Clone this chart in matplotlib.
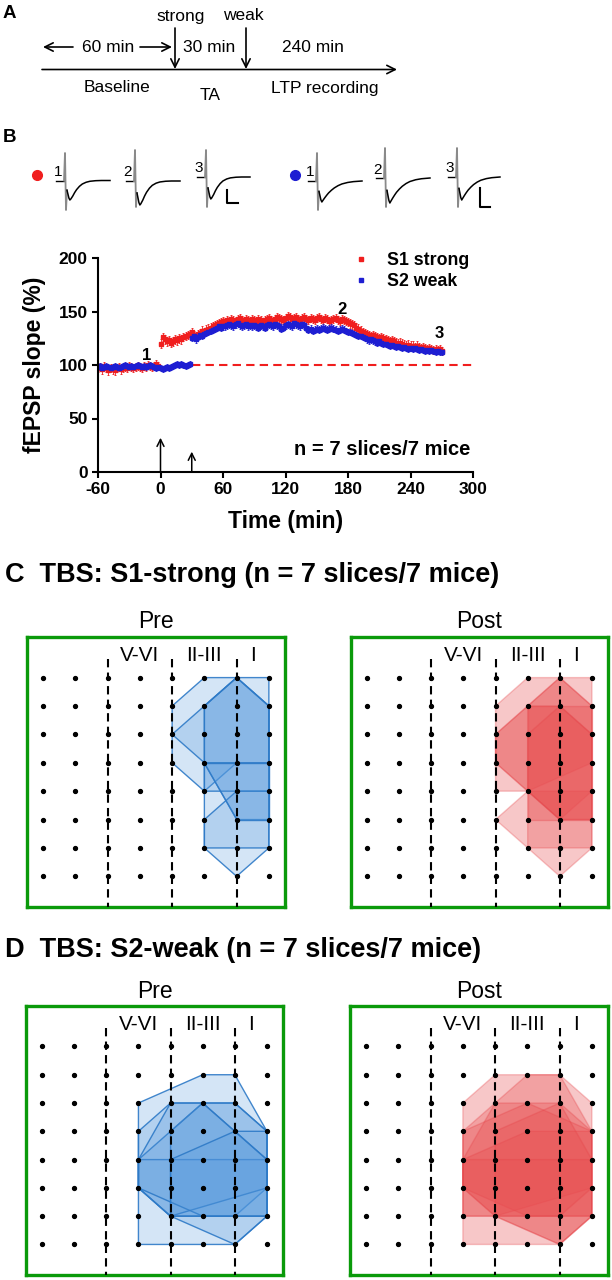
import numpy as np
import matplotlib
matplotlib.use("Agg")
import matplotlib.pyplot as plt
from matplotlib.patches import Polygon
from matplotlib.lines import Line2D

plt.rcParams['font.family'] = ['Liberation Sans', 'DejaVu Sans']
plt.rcParams['axes.unicode_minus'] = False

W, H = 612, 1280

# ---- panel A: protocol ----
stim_names = ['strong', 'weak']
phase_minutes = ['60 min', '30 min', '240 min']
phase_names = ['Baseline', 'TA', 'LTP recording']

# ---- panel B: time course (every 2 min) ----
time_min = np.arange(-60, 272, 2)
red_pct = [
    97, 98, 96, 99, 97, 95, 97, 96, 95, 97, 98, 96, 97, 98, 97,
    99, 98, 97, 98, 99, 98, 97, 99, 98, 100, 99, 98, 99, 101, 99,
    120, 126, 124, 122, 123, 121, 122, 124, 123, 125, 124, 126, 127, 128, 129, 131,
    128, 127, 129, 130, 132, 131, 133, 134, 135, 136, 137, 138, 139, 140, 141,
    140, 142, 141, 143, 142, 141, 143, 144, 142, 141, 143, 142, 141, 143, 142,
    141, 143, 142, 140, 142, 143, 144, 142, 141, 143, 145, 144, 143, 142, 144,
    146, 145, 143, 144, 145, 143, 142, 144, 145, 143, 142, 144, 143, 142, 144,
    145, 143, 142, 144, 143, 141, 142, 143, 144, 142, 141, 143, 142, 141, 140,
    139, 138, 137, 135, 134, 132, 131, 130, 129, 128, 127, 128, 127, 126, 125,
    126, 125, 124, 123, 122, 123, 122, 121, 120, 121, 120, 119, 118, 119, 118,
    118, 117, 118, 117, 116, 117, 116, 115, 116, 115, 114, 115, 114, 115, 113,
]
blue_pct = [
    98, 99, 97, 98, 99, 98, 97, 98, 99, 98, 97, 98, 99, 100, 99,
    98, 99, 98, 99, 100, 99, 98, 99, 98, 99, 100, 99, 98, 97, 98,
    97, 96, 97, 98, 97, 98, 99, 100, 101, 100, 101, 100, 99, 100, 101,
    125, 127, 124, 126, 128, 127, 129, 130, 131, 132, 133, 134, 135, 136, 135, 136,
    136, 137, 138, 137, 136, 138, 139, 137, 136, 137, 138, 136, 137, 136, 137,
    136, 135, 137, 136, 135, 137, 138, 137, 136, 138, 137, 136, 134, 135, 137,
    138, 137, 136, 139, 138, 137, 136, 138, 137, 135, 133, 134, 132, 133, 134,
    133, 134, 135, 134, 133, 134, 135, 134, 133, 132, 133, 134, 133, 132, 131,
    131, 130, 129, 128, 127, 127, 126, 125, 124, 123, 124, 123, 122, 121, 122,
    121, 120, 120, 119, 118, 119, 118, 117, 118, 117, 116, 117, 116, 115, 116,
    115, 116, 115, 114, 115, 114, 113, 114, 113, 114, 113, 112, 113, 112, 112,
]
red_sem = 4.0
blue_sem = 3.0
stim_times = [0, 30]
trace_marks = {'1': (-13, 109), '2': (174, 152), '3': (268, 129)}

# ---- example traces (normalised decay after the artifact) ----
shape_t = [0, 2, 3, 4, 6, 8, 10, 13, 16, 20, 24, 30, 36, 45]
red_shape = [0.5, 0.9, 1.0, 0.95, 0.8, 0.62, 0.47, 0.3, 0.18, 0.09, 0.04, 0.01, 0, 0]
blue_shape = [0.5, 0.9, 1.0, 0.93, 0.8, 0.68, 0.57, 0.44, 0.33, 0.22, 0.14, 0.07, 0.03, 0]
red_depth = [19.5, 24, 22]
blue_depth = [21, 25, 23]

# ---- panels C/D: responsive-electrode outlines, (column, row) on 8x8 grid ----
c_pre = [
    [(5, 2), (6, 1), (8, 1), (8, 4), (7, 4), (6, 5), (5, 4)],
    [(5, 3), (6, 2), (7, 1), (8, 2), (8, 4), (6, 4)],
    [(6, 2), (7, 1), (8, 2), (8, 6), (7, 6), (6, 4)],
    [(6, 4), (8, 4), (8, 7), (7, 8), (6, 7)],
    [(6, 6), (7, 5), (8, 5), (8, 7), (6, 7)],
    [(6, 2), (7, 1), (8, 2), (8, 5), (6, 5)],
    [(6, 4), (8, 4), (8, 6), (7, 6)],
]
c_post = [
    [(5, 2), (6, 1), (8, 1), (8, 4), (6, 5), (5, 5)],
    [(5, 3), (6, 2), (7, 1), (8, 2), (8, 5), (7, 6), (5, 4)],
    [(6, 2), (7, 1), (8, 2), (8, 7), (6, 7)],
    [(5, 6), (6, 5), (8, 5), (8, 7), (7, 8), (6, 7)],
    [(6, 2), (8, 2), (8, 6), (6, 6)],
    [(5, 3), (6, 2), (7, 2), (8, 3), (8, 6), (7, 6), (5, 4)],
    [(6, 3), (7, 2), (8, 3), (8, 6), (7, 6), (6, 5)],
]
d_pre = [
    [(4, 3), (6, 2), (7, 2), (8, 4), (8, 7), (7, 8), (4, 8)],
    [(4, 4), (5, 3), (7, 3), (8, 4), (8, 6), (7, 7), (5, 7), (4, 6)],
    [(4, 5), (5, 4), (6, 3), (7, 3), (8, 4), (8, 7), (5, 7), (4, 6)],
    [(4, 5), (8, 5), (8, 7), (7, 8), (5, 7), (4, 6)],
    [(5, 4), (6, 3), (7, 4), (8, 4), (8, 6), (5, 7)],
    [(4, 5), (5, 3), (6, 3), (8, 5), (8, 7), (6, 7), (4, 6)],
    [(5, 5), (7, 4), (8, 5), (8, 7), (5, 7)],
]
d_post = [
    [(4, 3), (5, 2), (7, 2), (8, 3), (8, 7), (7, 8), (4, 8)],
    [(4, 4), (5, 3), (6, 2), (7, 2), (8, 4), (8, 7), (4, 7)],
    [(4, 5), (5, 3), (7, 3), (8, 4), (8, 7), (7, 8), (5, 7), (4, 6)],
    [(4, 4), (6, 3), (8, 4), (8, 6), (5, 7), (4, 6)],
    [(4, 5), (6, 4), (8, 4), (8, 7), (6, 7), (4, 6)],
    [(5, 4), (7, 3), (8, 5), (8, 7), (7, 8), (5, 7)],
    [(4, 5), (8, 5), (8, 6), (7, 7), (4, 7)],
]
layers = ['V-VI', 'II-III', 'I']
layer_cols = [4, 6, 7.5]
border_cols = [3, 5, 7]

RED = '#f01e1e'
BLUE = '#1e1ed2'

fig = plt.figure(figsize=(W / 100, H / 100), dpi=100)


def px_axes(x0, y0, x1, y1):
    return fig.add_axes([x0 / W, 1 - y1 / H, (x1 - x0) / W, (y1 - y0) / H])


def arrow(ax, start, end, lw=1.2, hl=0.6, hw=0.3):
    ax.annotate('', xy=end, xytext=start,
                arrowprops=dict(arrowstyle=f'->,head_length={hl},head_width={hw}',
                                lw=lw, color='black', shrinkA=0, shrinkB=0))


# ================= A =================
fig.text(3 / W, 1 - 14 / H, 'A', fontsize=13.5, fontweight='bold', va='center')
ax = px_axes(0, 0, W, 110)
ax.set_xlim(0, W)
ax.set_ylim(110, 0)
ax.axis('off')
arrow(ax, (42, 69.5), (397, 69.5))
for x, tx, name in zip([175, 246], [181, 243], stim_names):
    arrow(ax, (x, 28), (x, 69))
    ax.text(tx, 16, name, ha='center', va='center', fontsize=12.5)
arrow(ax, (73, 47), (43, 47))
arrow(ax, (140, 47), (172, 47))
for x, lab in zip([108, 209, 313], phase_minutes):
    ax.text(x, 47, lab, ha='center', va='center', fontsize=12.5)
for x, y, lab in zip([117, 210, 325], [88, 95, 88], phase_names):
    ax.text(x, y, lab, ha='center', va='center', fontsize=12.5)

# ================= B traces =================
fig.text(3 / W, 1 - 138 / H, 'B', fontsize=13.5, fontweight='bold', va='center')
ax = px_axes(0, 110, W, 250)
ax.set_xlim(0, W)
ax.set_ylim(250, 110)
ax.axis('off')
ax.plot([37], [175], 'o', color=RED, ms=7)
ax.plot([295], [175], 'o', color=BLUE, ms=7)
traces = [
    (65, 180.5, 153, 210, red_depth[0], 110, red_shape),
    (135, 181, 150, 207, red_depth[1], 180, red_shape),
    (206, 177, 150, 207, red_depth[2], 250, red_shape),
    (317, 181, 153, 210, blue_depth[0], 362, blue_shape),
    (385, 178, 148, 207, blue_depth[1], 430, blue_shape),
    (457, 177, 148, 207, blue_depth[2], 500, blue_shape),
]
for i, (ax0, base, top, bot, depth, end, shape) in enumerate(traces):
    ax.plot([ax0 - 9, ax0 - 1], [base, base], color='black', lw=1.0)
    ax.plot([ax0 - 1, ax0, ax0 + 1, ax0 + 2], [base, top, bot, base + 0.5 * depth],
            color='#8a8a8a', lw=1.3)
    xs = [ax0 + 2 + t * (end - ax0 - 2) / 45 for t in shape_t]
    ys = [base + depth * v for v in shape]
    ax.plot(xs, ys, color='black', lw=1.1)
    ax.text(ax0 - 7, base - 8.5, str(i % 3 + 1), ha='center', va='center', fontsize=11)
ax.plot([227, 227, 238], [190, 203, 203], color='black', lw=1.5)
ax.plot([480, 480, 490], [188, 207, 207], color='black', lw=1.5)

# ================= B time course =================
ax = px_axes(98, 258, 473, 472)
ax.errorbar(time_min, red_pct, yerr=red_sem, fmt='s', ms=2.2, color=RED,
            elinewidth=0.6, capsize=0.8, capthick=0.6)
ax.errorbar(time_min, blue_pct, yerr=blue_sem, fmt='s', ms=2.2, color=BLUE,
            elinewidth=0.6, capsize=0.8, capthick=0.6)
ax.plot([30, 300], [100, 100], '--', color=RED, lw=1.5, dashes=(4, 2.5))
for t, top in zip(stim_times, [32, 19]):
    ax.annotate('', xy=(t, top), xytext=(t, 0),
                arrowprops=dict(arrowstyle='->,head_length=0.5,head_width=0.25',
                                lw=1.1, color='black', shrinkA=0, shrinkB=0))
for lab, (t, v) in trace_marks.items():
    ax.text(t, v, lab, ha='center', va='center', fontsize=12, fontweight='bold')
ax.text(297, 21, 'n = 7 slices/7 mice', ha='right', va='center',
        fontsize=14.5, fontweight='bold')
ax.set_xlim(-60, 300)
ax.set_ylim(0, 200)
ax.set_xticks(range(-60, 301, 60))
ax.set_yticks(range(0, 201, 50))
for s in ['top', 'right']:
    ax.spines[s].set_visible(False)
for s in ['left', 'bottom']:
    ax.spines[s].set_linewidth(1.5)
ax.tick_params(width=1.5, length=4, labelsize=12.5)
for lab in ax.get_xticklabels() + ax.get_yticklabels():
    lab.set_fontweight('bold')
ax.set_xlabel('Time (min)', fontsize=16.5, fontweight='bold', labelpad=9)
ax.set_ylabel('fEPSP slope (%)', fontsize=16.5, fontweight='bold', labelpad=9)
handles = [Line2D([], [], ls='none', marker='s', ms=3, color=RED),
           Line2D([], [], ls='none', marker='s', ms=3, color=BLUE)]
ax.legend(handles, ['S1 strong', 'S2 weak'], loc='upper left',
          bbox_to_anchor=(0.653, 1.07), frameon=False, borderpad=0,
          handlelength=1.0, handletextpad=1.0, labelspacing=0.25,
          prop=dict(size=12.8, weight='bold'))

# ================= C / D maps =================
fig.text(5 / W, 1 - 575 / H, 'C  TBS: S1-strong (n = 7 slices/7 mice)',
         fontsize=19.5, fontweight='bold', va='center')
fig.text(5 / W, 1 - 950 / H, 'D  TBS: S2-weak (n = 7 slices/7 mice)',
         fontsize=19.5, fontweight='bold', va='center')

cols, rows = np.meshgrid(np.arange(1, 9), np.arange(1, 9))
blue_face = (0.33, 0.60, 0.87, 0.25)
blue_edge = (0.18, 0.48, 0.78, 0.9)
red_face = (0.91, 0.30, 0.31, 0.31)
red_edge = (0.90, 0.25, 0.27, 0.3)

panels = [
    ((27, 637, 285, 907), 'Pre', c_pre, blue_face, blue_edge),
    ((351, 637, 608, 907), 'Post', c_post, red_face, red_edge),
    ((26, 1006, 283, 1275), 'Pre', d_pre, blue_face, blue_edge),
    ((350, 1006, 608, 1275), 'Post', d_post, red_face, red_edge),
]
for box, title, polys, face, edge in panels:
    ax = px_axes(*box)
    ax.set_xlim(0.5, 8.5)
    ax.set_ylim(9.08, -0.43)
    ax.set_xticks([])
    ax.set_yticks([])
    for s in ax.spines.values():
        s.set_color('#0a9a0a')
        s.set_linewidth(2.4)
    for poly in polys:
        ax.add_patch(Polygon(poly, closed=True, facecolor=face, edgecolor=edge,
                             lw=1.0, zorder=2))
    for c in border_cols:
        ax.plot([c, c], [0.35, 9.08], color='black', lw=1.5, dashes=(4, 2.5), zorder=3)
    ax.plot(cols.ravel(), rows.ravel(), 'o', color='black', ms=2.8, zorder=4)
    for c, lab in zip(layer_cols, layers):
        ax.text(c, 0.22, lab, ha='center', va='center', fontsize=15)
    ax.text(0.5, 1 + 15 / 270, title, transform=ax.transAxes,
            ha='center', va='center', fontsize=16.5)

fig.savefig('out.png', dpi=100)
